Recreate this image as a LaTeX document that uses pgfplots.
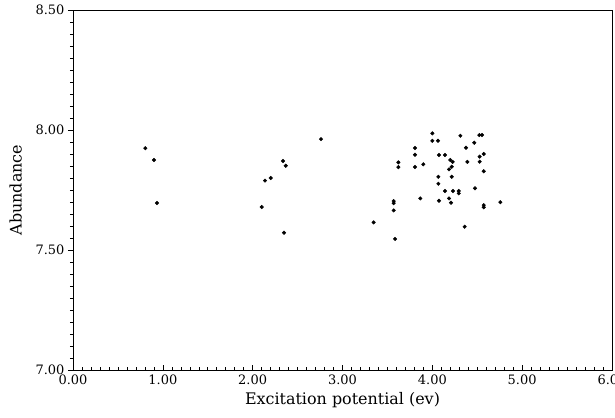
\documentclass[border=0pt]{standalone}
\usepackage{pgfplots}
\pgfplotsset{compat=1.18}
\usepackage{fontspec}
\setmainfont{DejaVu Serif}
\begin{document}
\begin{tikzpicture}
\begin{axis}[
  scale only axis,
  width=539bp, height=360bp,
  xmin=0, xmax=6, ymin=7.0, ymax=8.5,
  xtick={0,1,...,6}, ytick={7.0,7.5,8.0,8.5},
  minor x tick num=9, minor y tick num=9,
  xtick pos=bottom, ytick pos=left,
  xtick align=inside, ytick align=outside,
  major tick length=5bp, minor tick length=3bp,
  tick style={black, line width=0.5pt},
  axis line style={line width=0.8pt},
  /pgf/number format/fixed,
  /pgf/number format/fixed zerofill,
  /pgf/number format/precision=2,
  /pgf/number format/assume math mode=true,
  tick label style={font=\fontsize{13}{14}\selectfont},
  xticklabel style={yshift=-1bp},
  label style={font=\fontsize{16}{18}\selectfont},
  xlabel={Excitation potential (ev)},
  ylabel={Abundance},
  xlabel style={yshift=-1bp},
  ylabel style={yshift=7bp},
]
\addplot[only marks, mark=*, mark size=1.8pt, black] table {
x y
0.805 7.924
0.902 7.875
0.935 7.696
2.338 7.871
2.368 7.851
2.137 7.789
2.201 7.800
2.101 7.679
2.349 7.572
2.761 7.962
3.622 7.865
3.622 7.845
3.570 7.704
3.570 7.695
3.570 7.665
3.347 7.615
3.585 7.546
4.000 7.986
4.000 7.955
4.063 7.955
4.312 7.976
4.523 7.979
4.553 7.979
4.467 7.947
4.375 7.926
3.807 7.925
3.807 7.897
4.074 7.896
4.141 7.896
4.572 7.900
4.527 7.889
4.527 7.868
4.390 7.867
4.200 7.875
4.227 7.867
4.216 7.847
4.186 7.836
3.807 7.846
3.900 7.857
4.572 7.828
4.067 7.805
4.216 7.805
4.067 7.776
4.475 7.757
4.141 7.746
4.230 7.746
4.294 7.746
4.294 7.736
3.866 7.715
4.074 7.705
4.186 7.715
4.208 7.697
4.572 7.687
4.572 7.678
4.757 7.699
4.360 7.597
};
\end{axis}
\pgfresetboundingbox
\path[use as bounding box] (-73bp,-48bp) rectangle (542bp,370bp);
\end{tikzpicture}
\end{document}
